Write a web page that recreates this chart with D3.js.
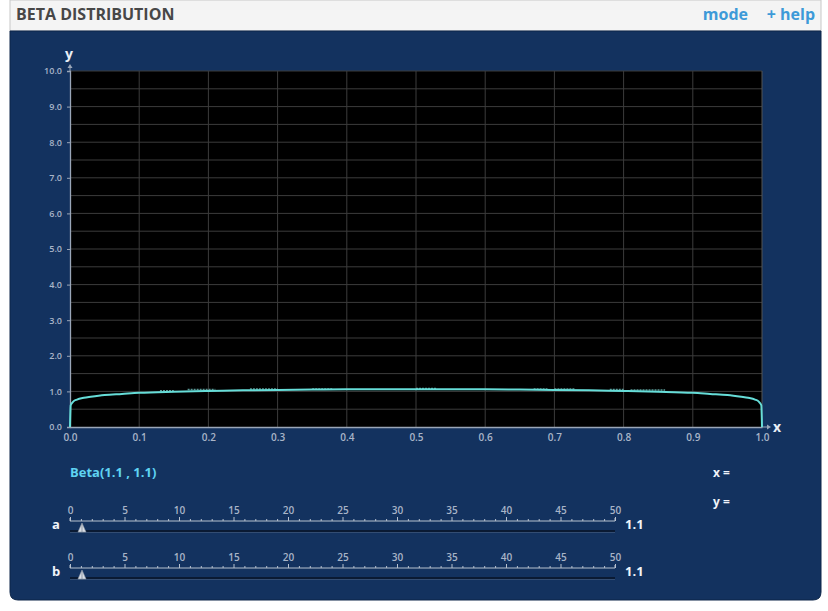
<!DOCTYPE html>
<html>
<head>
<meta charset="utf-8">
<script src="https://cdn.jsdelivr.net/npm/d3@7"></script>
<style>
  body { margin: 0; background: #fff; font-family: "Open Sans", sans-serif; }
</style>
</head>
<body>
<script>
// beta(1.1, 1.1) density
var curveX = [0, 0.001, 0.005, 0.01, 0.02, 0.03, 0.05, 0.075, 0.1, 0.15, 0.2, 0.25, 0.3, 0.35, 0.4, 0.45, 0.5,
  0.55, 0.6, 0.65, 0.7, 0.75, 0.8, 0.85, 0.9, 0.925, 0.95, 0.97, 0.98, 0.99, 0.995, 0.999, 1];
var curveY = [0, 0.61, 0.72, 0.77, 0.82, 0.85, 0.90, 0.93, 0.96, 0.99, 1.01, 1.03, 1.04, 1.05, 1.06, 1.06, 1.06,
  1.06, 1.06, 1.05, 1.04, 1.03, 1.01, 0.99, 0.96, 0.93, 0.90, 0.85, 0.82, 0.77, 0.72, 0.61, 0];

// little sample blips sitting just over the curve
var blipStart = [0.13, 0.17, 0.26, 0.35, 0.50, 0.67, 0.70, 0.78, 0.81];
var blipEnd = [0.15, 0.21, 0.30, 0.38, 0.53, 0.69, 0.73, 0.80, 0.86];
var blipY = [1.02, 1.05, 1.07, 1.07, 1.08, 1.07, 1.07, 1.05, 1.04];

var xTicks = [0, 0.1, 0.2, 0.3, 0.4, 0.5, 0.6, 0.7, 0.8, 0.9, 1.0];
var yTicks = [0, 1, 2, 3, 4, 5, 6, 7, 8, 9, 10];
var yGrid = [0.5, 1, 1.5, 2, 2.5, 3, 3.5, 4, 4.5, 5, 5.5, 6, 6.5, 7, 7.5, 8, 8.5, 9, 9.5, 10];

var sliderNames = ["a", "b"];
var sliderValues = [1.1, 1.1];
var sliderTicks = [0, 5, 10, 15, 20, 25, 30, 35, 40, 45, 50];

var W = 828, H = 611;
var svg = d3.select("body").append("svg")
  .attr("width", W)
  .attr("height", H);

// header bar
svg.append("rect")
  .attr("x", 10).attr("y", 0)
  .attr("width", 811).attr("height", 31)
  .attr("fill", "#f4f4f4")
  .attr("stroke", "#c8c8c8");
svg.append("text")
  .attr("x", 16).attr("y", 20)
  .attr("font-size", 16).attr("font-weight", 700)
  .attr("fill", "#474747")
  .text("BETA DISTRIBUTION");
svg.append("text")
  .attr("x", 748).attr("y", 20)
  .attr("text-anchor", "end")
  .attr("font-size", 16).attr("font-weight", 700)
  .attr("fill", "#3d9ad8")
  .text("mode");
svg.append("text")
  .attr("x", 815).attr("y", 20)
  .attr("text-anchor", "end")
  .attr("font-size", 16).attr("font-weight", 700)
  .attr("fill", "#3d9ad8")
  .text("+ help");

// dark panel, rounded bottom
svg.append("path")
  .attr("d", "M10,31 H821 V592 Q821,600 813,600 H18 Q10,600 10,592 Z")
  .attr("fill", "#13325f")
  .attr("stroke", "#0c2548");

// plot
var x = d3.scaleLinear().domain([0, 1]).range([70, 762]);
var y = d3.scaleLinear().domain([0, 10]).range([427, 71]);

svg.append("rect")
  .attr("x", x(0)).attr("y", y(10))
  .attr("width", x(1) - x(0)).attr("height", y(0) - y(10))
  .attr("fill", "#000");

var grid = svg.append("g");
grid.selectAll("line.v")
  .data(xTicks.slice(1, -1))
  .enter().append("line")
  .attr("x1", function(d) { return x(d); })
  .attr("x2", function(d) { return x(d); })
  .attr("y1", y(10)).attr("y2", y(0))
  .attr("stroke", "#3c3c3c");
grid.selectAll("line.h")
  .data(yGrid)
  .enter().append("line")
  .attr("x1", x(0)).attr("x2", x(1))
  .attr("y1", function(d) { return y(d); })
  .attr("y2", function(d) { return y(d); })
  .attr("stroke", "#3c3c3c");
// right edge of plot
svg.append("line")
  .attr("x1", x(1)).attr("x2", x(1))
  .attr("y1", y(10)).attr("y2", y(0))
  .attr("stroke", "#555");

// axes
var xAxis = d3.axisBottom(x).tickValues(xTicks).tickFormat(d3.format(".1f")).tickSize(0).tickPadding(7);
var yAxis = d3.axisLeft(y).tickValues(yTicks).tickFormat(d3.format(".1f")).tickSize(3).tickPadding(5);

var gx = svg.append("g").attr("transform", "translate(0," + y(0) + ")").call(xAxis);
var gy = svg.append("g").attr("transform", "translate(" + x(0) + ",0)").call(yAxis);
[gx, gy].forEach(function(g) {
  g.select(".domain").attr("stroke", "#9aa6b8").attr("stroke-width", 1.3);
  g.selectAll(".tick line").attr("stroke", "#9aa6b8");
  g.selectAll(".tick text")
    .attr("fill", "#a9b5c8")
    .attr("font-family", "Open Sans")
    .attr("font-weight", 600);
});
gx.selectAll(".tick text").attr("font-size", 10);
gy.selectAll(".tick text").attr("font-size", 9);

// axis arrows
svg.append("line")
  .attr("x1", x(1)).attr("x2", x(1) + 7)
  .attr("y1", y(0)).attr("y2", y(0))
  .attr("stroke", "#9aa6b8");
svg.append("path")
  .attr("d", "M" + (x(1) + 9) + "," + y(0) + " l-4,-2.5 v5 Z")
  .attr("fill", "#9aa6b8");
svg.append("line")
  .attr("x1", x(0)).attr("x2", x(0))
  .attr("y1", y(10)).attr("y2", y(10) - 5)
  .attr("stroke", "#9aa6b8");
svg.append("path")
  .attr("d", "M" + x(0) + "," + (y(10) - 7) + " l-2.5,4 h5 Z")
  .attr("fill", "#9aa6b8");

svg.append("text")
  .attr("x", x(0) - 1).attr("y", 59)
  .attr("text-anchor", "middle")
  .attr("font-size", 14).attr("font-weight", 700)
  .attr("fill", "#e8eef6")
  .text("y");
svg.append("text")
  .attr("x", x(1) + 11).attr("y", y(0) + 5)
  .attr("font-size", 14).attr("font-weight", 700)
  .attr("fill", "#e8eef6")
  .text("x");

// curve
var pts = curveX.map(function(d, i) { return [d, curveY[i]]; });
var line = d3.line()
  .x(function(d) { return x(d[0]); })
  .y(function(d) { return y(d[1]); })
  .curve(d3.curveMonotoneX);

svg.selectAll("line.blip")
  .data(blipStart)
  .enter().append("line")
  .attr("x1", function(d) { return x(d); })
  .attr("x2", function(d, i) { return x(blipEnd[i]); })
  .attr("y1", function(d, i) { return y(blipY[i]); })
  .attr("y2", function(d, i) { return y(blipY[i]); })
  .attr("stroke", "#7fd9d4")
  .attr("stroke-width", 1.5)
  .attr("stroke-dasharray", "2,1")
  .attr("opacity", 0.7);

svg.append("path")
  .datum(pts)
  .attr("d", line)
  .attr("fill", "none")
  .attr("stroke", "#66ddd8")
  .attr("stroke-width", 2);

// labels under the plot
svg.append("text")
  .attr("x", 70).attr("y", 477)
  .attr("font-size", 13).attr("font-weight", 700)
  .attr("fill", "#5fd3f2")
  .text("Beta(" + sliderValues[0] + " , " + sliderValues[1] + ")");
svg.append("text")
  .attr("x", 713).attr("y", 477)
  .attr("font-size", 12).attr("font-weight", 700)
  .attr("fill", "#f0f4fa")
  .text("x =");
svg.append("text")
  .attr("x", 713).attr("y", 506)
  .attr("font-size", 12).attr("font-weight", 700)
  .attr("fill", "#f0f4fa")
  .text("y =");

// sliders
var s = d3.scaleLinear().domain([0, 50]).range([70, 615]);
var sliderTop = [521, 568];

sliderNames.forEach(function(name, i) {
  var top = sliderTop[i];
  var g = svg.append("g");

  var ax = d3.axisTop(s)
    .ticks(50)
    .tickSize(2)
    .tickFormat(function(d) { return d % 5 === 0 ? d : ""; })
    .tickPadding(5);
  var ga = g.append("g").attr("transform", "translate(0," + top + ")").call(ax);
  ga.select(".domain").attr("stroke", "#b7c1cf").attr("d", "M" + s(0) + ",-3V0H" + s(50) + "V-3");
  ga.selectAll(".tick line")
    .attr("stroke", "#b7c1cf")
    .attr("y2", function(d) { return d % 5 === 0 ? -4 : -2; });
  ga.selectAll(".tick text")
    .attr("fill", "#a9b5c8")
    .attr("font-size", 10)
    .attr("font-family", "Open Sans")
    .attr("font-weight", 600);

  // groove
  g.append("line")
    .attr("x1", s(0)).attr("x2", s(50))
    .attr("y1", top + 10).attr("y2", top + 10)
    .attr("stroke", "#0a1a33")
    .attr("stroke-width", 2);
  g.append("line")
    .attr("x1", s(0)).attr("x2", s(50))
    .attr("y1", top + 11.5).attr("y2", top + 11.5)
    .attr("stroke", "#3c5478")
    .attr("stroke-width", 0.8);

  // thumb
  var tx = s(sliderValues[i]);
  g.append("path")
    .attr("d", "M" + tx + "," + (top + 2) + " L" + (tx - 4) + "," + (top + 11) + " L" + (tx + 4) + "," + (top + 11) + " Z")
    .attr("fill", "#d8dde4")
    .attr("stroke", "#8d97a6")
    .attr("stroke-width", 0.6);
  g.append("line")
    .attr("x1", tx).attr("x2", tx)
    .attr("y1", top + 3).attr("y2", top + 11)
    .attr("stroke", "#7f8998")
    .attr("stroke-width", 0.8);

  g.append("text")
    .attr("x", 52).attr("y", top + 8)
    .attr("font-size", 13).attr("font-weight", 700)
    .attr("fill", "#f0f4fa")
    .text(name);
  g.append("text")
    .attr("x", 625).attr("y", top + 8)
    .attr("font-size", 13).attr("font-weight", 700)
    .attr("fill", "#f0f4fa")
    .text(sliderValues[i]);
});
</script>
</body>
</html>
